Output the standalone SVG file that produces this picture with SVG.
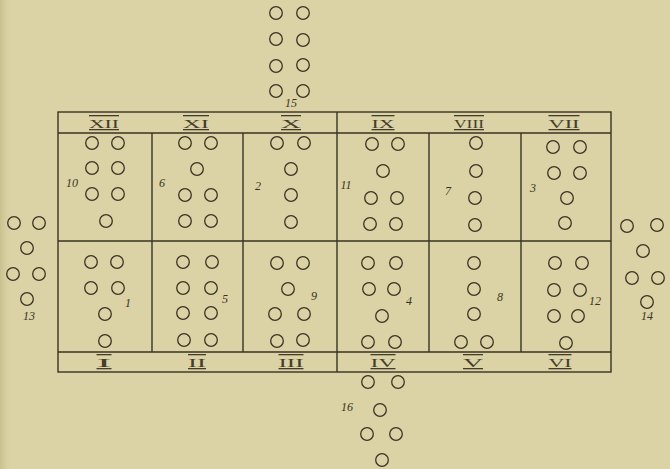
<svg xmlns="http://www.w3.org/2000/svg" width="670" height="469" viewBox="0 0 670 469">
<style>
.bg{fill:#dbd3a5}
.ln{stroke:#3a3324;stroke-width:1.4;fill:none}
.c{fill:none;stroke:#3a3324;stroke-width:1.3}
.rn{font-family:"Liberation Serif",serif;font-size:13px;fill:#453d2c;text-anchor:middle;text-decoration:overline underline}
.n{font-family:"Liberation Serif",serif;font-style:italic;font-size:12px;fill:#3a3324;text-anchor:middle}
</style>
<defs>
<linearGradient id="edge" x1="0" x2="1" y1="0" y2="0">
<stop offset="0" stop-color="#c9bf8e"/>
<stop offset="1" stop-color="#dbd3a5" stop-opacity="0"/>
</linearGradient>
</defs>
<rect class="bg" x="0" y="0" width="670" height="469"/>
<rect x="0" y="0" width="12" height="469" fill="url(#edge)"/>

<g id="grid">
<rect class="ln" x="58" y="112" width="553" height="260"/>
<line class="ln" x1="58" y1="133" x2="611" y2="133"/>
<line class="ln" x1="58" y1="241" x2="611" y2="241"/>
<line class="ln" x1="58" y1="352" x2="611" y2="352"/>
<line class="ln" x1="337" y1="112" x2="337" y2="372"/>
<line class="ln" x1="152" y1="133" x2="152" y2="352"/>
<line class="ln" x1="243" y1="133" x2="243" y2="352"/>
<line class="ln" x1="429" y1="133" x2="429" y2="352"/>
<line class="ln" x1="521" y1="133" x2="521" y2="352"/>
</g>

<g id="labels-top">
<text class="rn" x="104" y="128" textLength="30" lengthAdjust="spacingAndGlyphs">XII</text>
<text class="rn" x="196" y="128" textLength="26" lengthAdjust="spacingAndGlyphs">XI</text>
<text class="rn" x="291" y="128" textLength="20" lengthAdjust="spacingAndGlyphs">X</text>
<text class="rn" x="383" y="128" textLength="23" lengthAdjust="spacingAndGlyphs">IX</text>
<text class="rn" x="469" y="128" textLength="30" lengthAdjust="spacingAndGlyphs">VIII</text>
<text class="rn" x="564" y="128" textLength="31" lengthAdjust="spacingAndGlyphs">VII</text>
</g>
<g id="labels-bottom">
<text class="rn" x="104" y="367" textLength="15" lengthAdjust="spacingAndGlyphs">I</text>
<text class="rn" x="197" y="367" textLength="18" lengthAdjust="spacingAndGlyphs">II</text>
<text class="rn" x="291" y="367" textLength="25" lengthAdjust="spacingAndGlyphs">III</text>
<text class="rn" x="383" y="367" textLength="25" lengthAdjust="spacingAndGlyphs">IV</text>
<text class="rn" x="473" y="367" textLength="20" lengthAdjust="spacingAndGlyphs">V</text>
<text class="rn" x="560" y="367" textLength="23" lengthAdjust="spacingAndGlyphs">VI</text>
</g>

<g id="cell-XII">
<circle class="c" cx="92" cy="143" r="6.3"/><circle class="c" cx="118" cy="143" r="6.3"/>
<circle class="c" cx="92" cy="168" r="6.3"/><circle class="c" cx="118" cy="168" r="6.3"/>
<circle class="c" cx="92" cy="194" r="6.3"/><circle class="c" cx="118" cy="194" r="6.3"/>
<circle class="c" cx="106" cy="221" r="6.3"/>
<text class="n" x="72" y="187">10</text>
</g>
<g id="cell-XI">
<circle class="c" cx="185" cy="143" r="6.3"/><circle class="c" cx="211" cy="143" r="6.3"/>
<circle class="c" cx="197" cy="169" r="6.3"/>
<circle class="c" cx="185" cy="195" r="6.3"/><circle class="c" cx="211" cy="195" r="6.3"/>
<circle class="c" cx="185" cy="221" r="6.3"/><circle class="c" cx="211" cy="221" r="6.3"/>
<text class="n" x="162" y="187">6</text>
</g>
<g id="cell-X">
<circle class="c" cx="277" cy="143" r="6.3"/><circle class="c" cx="304" cy="143" r="6.3"/>
<circle class="c" cx="291" cy="169" r="6.3"/>
<circle class="c" cx="291" cy="195" r="6.3"/>
<circle class="c" cx="291" cy="222" r="6.3"/>
<text class="n" x="258" y="190">2</text>
</g>
<g id="cell-IX">
<circle class="c" cx="372" cy="144" r="6.3"/><circle class="c" cx="398" cy="144" r="6.3"/>
<circle class="c" cx="383" cy="171" r="6.3"/>
<circle class="c" cx="371" cy="198" r="6.3"/><circle class="c" cx="397" cy="198" r="6.3"/>
<circle class="c" cx="370" cy="224" r="6.3"/><circle class="c" cx="396" cy="224" r="6.3"/>
<text class="n" x="346" y="189">11</text>
</g>
<g id="cell-VIII">
<circle class="c" cx="476" cy="143" r="6.3"/>
<circle class="c" cx="476" cy="171" r="6.3"/>
<circle class="c" cx="475" cy="198" r="6.3"/>
<circle class="c" cx="475" cy="225" r="6.3"/>
<text class="n" x="448" y="195" font-size="8">7</text>
</g>
<g id="cell-VII">
<circle class="c" cx="553" cy="147" r="6.3"/><circle class="c" cx="580" cy="147" r="6.3"/>
<circle class="c" cx="554" cy="173" r="6.3"/><circle class="c" cx="580" cy="173" r="6.3"/>
<circle class="c" cx="567" cy="198" r="6.3"/>
<circle class="c" cx="565" cy="223" r="6.3"/>
<text class="n" x="533" y="192">3</text>
</g>

<g id="cell-I">
<circle class="c" cx="91" cy="262" r="6.3"/><circle class="c" cx="117" cy="262" r="6.3"/>
<circle class="c" cx="91" cy="288" r="6.3"/><circle class="c" cx="118" cy="288" r="6.3"/>
<circle class="c" cx="105" cy="314" r="6.3"/>
<circle class="c" cx="105" cy="341" r="6.3"/>
<text class="n" x="128" y="307">1</text>
</g>
<g id="cell-II">
<circle class="c" cx="183" cy="262" r="6.3"/><circle class="c" cx="212" cy="262" r="6.3"/>
<circle class="c" cx="183" cy="288" r="6.3"/><circle class="c" cx="211" cy="288" r="6.3"/>
<circle class="c" cx="183" cy="313" r="6.3"/><circle class="c" cx="211" cy="313" r="6.3"/>
<circle class="c" cx="184" cy="340" r="6.3"/><circle class="c" cx="211" cy="340" r="6.3"/>
<text class="n" x="225" y="303">5</text>
</g>
<g id="cell-III">
<circle class="c" cx="277" cy="263" r="6.3"/><circle class="c" cx="303" cy="263" r="6.3"/>
<circle class="c" cx="288" cy="289" r="6.3"/>
<circle class="c" cx="275" cy="314" r="6.3"/><circle class="c" cx="304" cy="314" r="6.3"/>
<circle class="c" cx="277" cy="341" r="6.3"/><circle class="c" cx="303" cy="340" r="6.3"/>
<text class="n" x="314" y="300">9</text>
</g>
<g id="cell-IV">
<circle class="c" cx="368" cy="263" r="6.3"/><circle class="c" cx="396" cy="263" r="6.3"/>
<circle class="c" cx="369" cy="289" r="6.3"/><circle class="c" cx="394" cy="289" r="6.3"/>
<circle class="c" cx="382" cy="316" r="6.3"/>
<circle class="c" cx="368" cy="342" r="6.3"/><circle class="c" cx="395" cy="342" r="6.3"/>
<text class="n" x="409" y="305">4</text>
</g>
<g id="cell-V">
<circle class="c" cx="474" cy="263" r="6.3"/>
<circle class="c" cx="474" cy="289" r="6.3"/>
<circle class="c" cx="474" cy="314" r="6.3"/>
<circle class="c" cx="461" cy="342" r="6.3"/><circle class="c" cx="487" cy="342" r="6.3"/>
<text class="n" x="500" y="301">8</text>
</g>
<g id="cell-VI">
<circle class="c" cx="555" cy="263" r="6.3"/><circle class="c" cx="582" cy="263" r="6.3"/>
<circle class="c" cx="554" cy="290" r="6.3"/><circle class="c" cx="580" cy="290" r="6.3"/>
<circle class="c" cx="554" cy="316" r="6.3"/><circle class="c" cx="578" cy="316" r="6.3"/>
<circle class="c" cx="566" cy="343" r="6.3"/>
<text class="n" x="595" y="305">12</text>
</g>

<g id="group-15">
<circle class="c" cx="276" cy="13" r="6.3"/><circle class="c" cx="303" cy="13" r="6.3"/>
<circle class="c" cx="276" cy="39" r="6.3"/><circle class="c" cx="303" cy="40" r="6.3"/>
<circle class="c" cx="276" cy="66" r="6.3"/><circle class="c" cx="303" cy="65" r="6.3"/>
<circle class="c" cx="276" cy="91" r="6.3"/><circle class="c" cx="303" cy="91" r="6.3"/>
<text class="n" x="291" y="107" font-size="9">15</text>
</g>
<g id="group-13">
<circle class="c" cx="14" cy="223" r="6.3"/><circle class="c" cx="39" cy="223" r="6.3"/>
<circle class="c" cx="27" cy="248" r="6.3"/>
<circle class="c" cx="13" cy="274" r="6.3"/><circle class="c" cx="39" cy="274" r="6.3"/>
<circle class="c" cx="27" cy="299" r="6.3"/>
<text class="n" x="29" y="320" font-size="10">13</text>
</g>
<g id="group-14">
<circle class="c" cx="627" cy="226" r="6.3"/><circle class="c" cx="657" cy="225" r="6.3"/>
<circle class="c" cx="643" cy="251" r="6.3"/>
<circle class="c" cx="632" cy="278" r="6.3"/><circle class="c" cx="658" cy="278" r="6.3"/>
<circle class="c" cx="647" cy="302" r="6.3"/>
<text class="n" x="647" y="320" font-size="10">14</text>
</g>
<g id="group-16">
<circle class="c" cx="368" cy="382" r="6.3"/><circle class="c" cx="398" cy="382" r="6.3"/>
<circle class="c" cx="380" cy="410" r="6.3"/>
<circle class="c" cx="367" cy="434" r="6.3"/><circle class="c" cx="396" cy="434" r="6.3"/>
<circle class="c" cx="382" cy="460" r="6.3"/>
<text class="n" x="347" y="411">16</text>
</g>
</svg>
